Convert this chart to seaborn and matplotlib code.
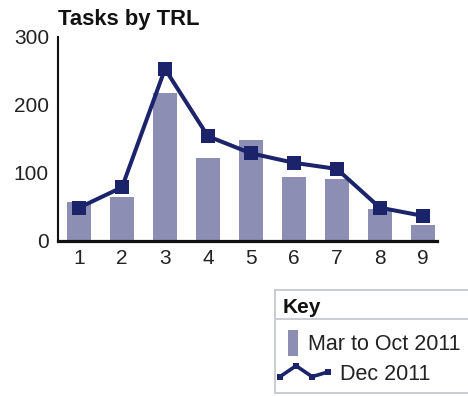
import matplotlib
matplotlib.use("Agg")
import matplotlib.pyplot as plt
import seaborn as sns
import pandas as pd
from matplotlib.patches import Patch
from matplotlib.lines import Line2D
from matplotlib.legend_handler import HandlerBase

# Number of tasks at each Technology Readiness Level
trl_levels = [1, 2, 3, 4, 5, 6, 7, 8, 9]
mar_to_oct_2011 = [57, 65, 218, 122, 148, 94, 91, 47, 23]
dec_2011 = [49, 79, 253, 154, 129, 115, 106, 49, 37]
y_ticks = [0, 100, 200, 300]
series_labels = ["Mar to Oct 2011", "Dec 2011"]
chart_title = "Tasks by TRL"
key_title = "Key"

BAR_COLOR = "#8c8fb3"
LINE_COLOR = "#1b236b"
KEY_EDGE = "#c5c9d0"

W, H = 468, 396

sns.set_theme(style="white")
plt.rcParams["font.family"] = ["Liberation Sans", "DejaVu Sans"]

df = pd.DataFrame({"trl": trl_levels, "mar_oct": mar_to_oct_2011, "dec": dec_2011})

fig = plt.figure(figsize=(W / 100, H / 100), dpi=100)


def px_rect(x0, y0, x1, y1):
    """Figure-fraction rectangle from pixel box (top-left origin)."""
    return [x0 / W, 1 - y1 / H, (x1 - x0) / W, (y1 - y0) / H]


ax = fig.add_axes(px_rect(58, 37, 437, 241))

sns.barplot(data=df, x="trl", y="mar_oct", native_scale=True, color=BAR_COLOR,
            saturation=1, width=0.55, errorbar=None, linewidth=0, ax=ax)
sns.lineplot(data=df, x="trl", y="dec", color=LINE_COLOR, lw=2.9, marker="s",
             markersize=10.5, markeredgewidth=0, ax=ax)

ax.set_xlim(0.51, 9.33)
ax.set_ylim(0, 300)
ax.set_xticks(trl_levels)
ax.set_xticklabels([str(t) for t in trl_levels])
ax.set_yticks(y_ticks)
ax.set_yticklabels([str(t) for t in y_ticks])
ax.set_xlabel("")
ax.set_ylabel("")
ax.tick_params(axis="both", length=0, labelsize=15, colors="#222222")
ax.tick_params(axis="x", pad=6)
ax.tick_params(axis="y", pad=6.5)
for side in ("top", "right"):
    ax.spines[side].set_visible(False)
ax.spines["left"].set_linewidth(1.5)
ax.spines["left"].set_color("#111111")
ax.spines["bottom"].set_linewidth(2.3)
ax.spines["bottom"].set_color("#111111")
ax.set_title(chart_title, loc="left", fontweight="bold", fontsize=15.8, pad=8.5,
             color="#111111")

# ---- key box below the chart ----
kx0, ky0, kx1, ky1 = 275, 290, 520, 393
key_ax = fig.add_axes(px_rect(kx0, ky0, kx1, ky1))
key_ax.set_xlim(kx0, kx1)
key_ax.set_ylim(ky1, ky0)
key_ax.set_xticks([])
key_ax.set_yticks([])
key_ax.set_facecolor("white")
for name, sp in key_ax.spines.items():
    sp.set_color(KEY_EDGE)
    sp.set_linewidth(1.3)
key_ax.spines["right"].set_visible(False)

key_ax.text(283, 313, key_title, fontweight="bold", fontsize=15,
            ha="left", va="baseline", color="#111111")
key_ax.axhline(319, color=KEY_EDGE, lw=1.3)


class ZigzagHandler(HandlerBase):
    def create_artists(self, legend, orig_handle, xdescent, ydescent,
                       width, height, fontsize, trans):
        fx = [0.0, 0.32, 0.64, 0.96]
        fy = [0.15, 0.95, 0.15, 0.5]
        line = Line2D([-xdescent + f * width for f in fx],
                      [-ydescent + f * height for f in fy],
                      color=orig_handle.get_color(), lw=2.6, marker="s",
                      markersize=5, markeredgewidth=0)
        line.set_transform(trans)
        return [line]


bar_handle = Patch(facecolor=BAR_COLOR, edgecolor="none")
line_handle = ax.lines[0]

leg_bar = key_ax.legend([bar_handle], [series_labels[0]], loc="center left",
                        bbox_to_anchor=(288, 343), bbox_transform=key_ax.transData,
                        frameon=False, fontsize=15.5, handlelength=0.45,
                        handleheight=1.45, handletextpad=0.5, borderpad=0,
                        borderaxespad=0, labelcolor="#222222")
key_ax.add_artist(leg_bar)
key_ax.legend([line_handle], [series_labels[1]], loc="center left",
              bbox_to_anchor=(280, 374), bbox_transform=key_ax.transData,
              frameon=False, fontsize=15.5, handlelength=2.33, handleheight=0.6,
              handletextpad=0.47, borderpad=0, borderaxespad=0,
              handler_map={line_handle: ZigzagHandler()}, labelcolor="#222222")

fig.savefig("out.png", dpi=100)
